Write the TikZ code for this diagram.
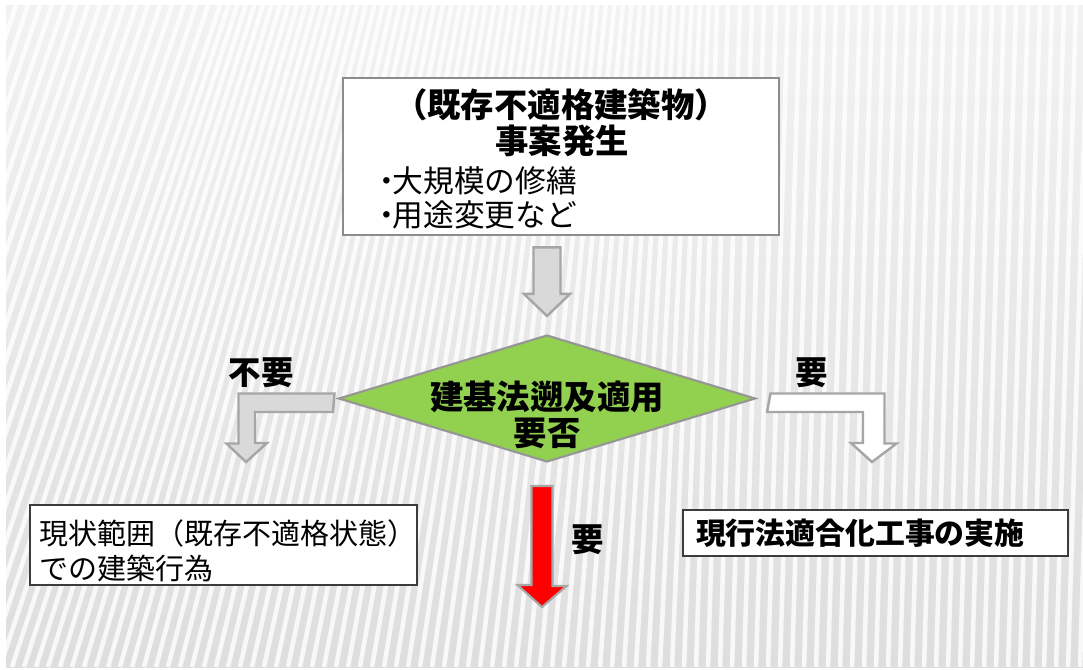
\documentclass[tikz,border=0pt]{standalone}
\usepackage{fontspec}
\setmainfont{Noto Sans CJK JP}
\usetikzlibrary{calc,shapes.geometric}
\definecolor{slideframe}{RGB}{140,140,140}
\definecolor{boxline}{RGB}{60,60,60}
\definecolor{judgegreen}{RGB}{146,208,80}
\definecolor{judgeline}{RGB}{150,150,150}
\definecolor{arrowgray}{RGB}{217,217,217}
\definecolor{arrowline}{RGB}{166,166,166}
\definecolor{reqred}{RGB}{255,0,0}

\begin{document}
\begin{tikzpicture}[x=0.02cm, y=-0.02cm,
  evtbox/.style={draw=slideframe, line width=1.6pt, fill=white, inner sep=0pt,
    minimum width=8.72cm, minimum height=3.14cm},
  plainbox/.style={draw=boxline, line width=1.1pt, fill=white, inner sep=0pt},
  judgebox/.style={diamond, draw=judgeline, line width=1.2pt, fill=judgegreen,
    inner sep=0pt, minimum width=8.34cm, minimum height=2.54cm},
  grayblock/.style={fill=arrowgray, draw=arrowline, line width=1.4pt},
  whiteblock/.style={fill=white, draw=arrowline, line width=1.4pt},
  redblock/.style={fill=reqred, draw=gray!70, line width=1.2pt},
  boldlabel/.style={font=\fontsize{18.5}{21}\selectfont\bfseries}
]
  % --- background (striped slide) ---
  \fill[white] (0,0) rectangle (1083,670);
  \begin{scope}
    \clip (6,5) rectangle (1083,667);
    \shade[top color=gray!10, bottom color=gray!26] (6,5) rectangle (1083,667);
    \foreach \x in {-240,-228,...,1100}{
      \pgfmathsetmacro{\t}{min(1,max(0,(700-\x)/700))}
      \pgfmathsetmacro{\lean}{20+200*\t}
      \draw[white,opacity=0.8,line width=2.6pt] (\x,667) -- (\x+\lean,5);
    }
  \end{scope}

  % --- top box: event ---
  \node[evtbox] (event) at (561,156.5) {};
  \node[font=\fontsize{19}{21}\selectfont\bfseries] (evttitle) at (561,105)
    {（既存不適格建築物）};
  \node[font=\fontsize{19}{21}\selectfont\bfseries] (evthead) at (562,141)
    {事案発生};
  \node[anchor=west, align=left, inner sep=0pt,
    font=\fontsize{17.5}{19.5}\selectfont] (evtlist) at (380,198)
    {\makebox[0.4em]{・}大規模の修繕\\\makebox[0.4em]{・}用途変更など};

  % --- decision diamond ---
  \node[judgebox] (judge) at (547,398.5) {};
  \node[align=center, font=\fontsize{19}{20.5}\selectfont\bfseries] (judgetext)
    at (547,415) {建基法遡及適用\\要否};

  % --- result boxes ---
  \node[plainbox, minimum width=7.74cm, minimum height=1.6cm] (keep) at (223.5,545) {};
  \node[anchor=west, align=left, inner sep=0pt,
    font=\fontsize{16.5}{19.9}\selectfont] (keeptext) at (39,551)
    {現状範囲（既存不適格状態）\\での建築行為};
  \node[plainbox, minimum width=7.7cm, minimum height=0.92cm, text width=7.18cm,
    align=left, font=\fontsize{17}{20}\selectfont\bfseries] (upgrade) at (875.5,533)
    {現行法適合化工事の実施};

  % --- block arrows ---
  \coordinate (dtop) at ($(judge.north |- event.south)+(0,11)$);
  \coordinate (dtip) at ($(judge.north)+(0,-18)$);
  \draw[grayblock] ($(dtop)+(-13.5,0)$) -- ($(dtop)+(13.5,0)$)
    -- ($(dtip)+(13.5,-22)$) -- ($(dtip)+(23,-22)$) -- (dtip)
    -- ($(dtip)+(-23,-22)$) -- ($(dtip)+(-13.5,-22)$) -- cycle;

  % not required: to the left
  \path (judge.west) ++(-3,4.5) coordinate (nofrom);
  \coordinate (noto) at (246,462);
  \draw[grayblock] (nofrom) ++(0,-9.5) -- ++(-96,0) -- ++(0,50) -- ++(-12,0)
    -- (noto) -- ++(21,-19) -- ++(-12,0) -- ++(0,-31) -- ++(78,0) -- cycle;

  % required: to the right
  \path (judge.east) ++(14,4.5) coordinate (yesfrom);
  \coordinate (yesto) at (872,462);
  \draw[whiteblock] (yesfrom) ++(0,-9.5) -- ++(114,0) -- ++(0,50) -- ++(12,0)
    -- (yesto) -- ++(-21,-19) -- ++(12,0) -- ++(0,-31) -- ++(-96,0) -- cycle;

  % required: downward (red)
  \path (judge.south) ++(-5,23) coordinate (reqfrom);
  \coordinate (reqto) at (542,607);
  \draw[redblock] (reqfrom) ++(-10.5,0) -- ++(21,0) -- ++(0,100) -- ++(14,0)
    -- (reqto) -- ++(-24.5,-22) -- ++(14,0) -- cycle;

  % --- branch labels ---
  \node[boldlabel] (nolabel) at (261,373) {不要};
  \node[boldlabel] (yeslabel) at (812,373) {要};
  \node[boldlabel] (reqlabel) at (588,540) {要};
\end{tikzpicture}
\end{document}
